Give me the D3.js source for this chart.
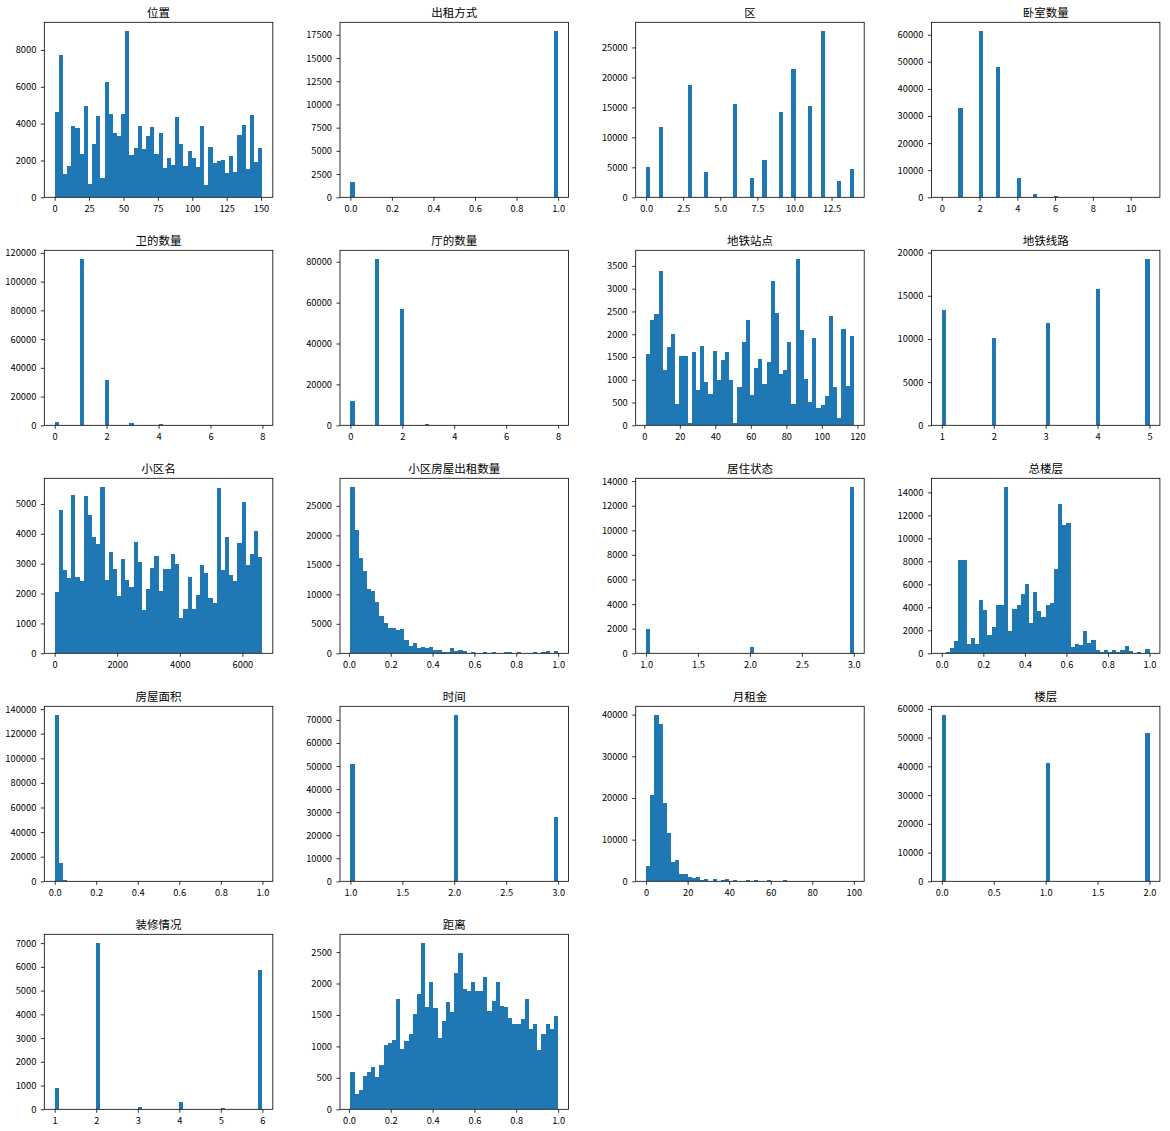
<!DOCTYPE html>
<html><head><meta charset="utf-8">
<script src="https://cdn.jsdelivr.net/npm/d3@7"></script>
<style>body{margin:0;background:#fff}</style>
</head><body><svg id="c" width="1170" height="1131"></svg>
<script>
// ---------- data ----------
const titles = ["位置","出租方式","区","卧室数量","卫的数量","厅的数量","地铁站点","地铁线路","小区名","小区房屋出租数量","居住状态","总楼层","房屋面积","时间","月租金","楼层","装修情况","距离"];

// 位置 (50 bins)
const weizhiRange = [0, 151];
const weizhiCounts = [4650,7750,1250,1700,3850,3750,2350,4950,700,2900,4400,1050,6250,4550,3480,3320,4550,9050,2300,2650,3850,2600,3320,3800,2350,3480,1600,2120,1750,4350,2880,1700,2500,2120,1650,3850,650,2720,1870,1950,2000,1320,2230,1370,3370,3900,1530,4450,1900,2650];
const weizhiXTicks = ["0","25","50","75","100","125","150"];
const weizhiYTicks = ["0","2000","4000","6000","8000"];

// 出租方式 (discrete values)
const chuzuRange = [0, 1];
const chuzuValues = [0, 1];
const chuzuCounts = [1600, 17950];
const chuzuXTicks = ["0.0","0.2","0.4","0.6","0.8","1.0"];
const chuzuYTicks = ["0","2500","5000","7500","10000","12500","15000","17500"];

// 区
const quRange = [0, 14];
const quValues = [0,1,3,4,6,7,8,9,10,11,12,13,14];
const quCounts = [5000,11800,18800,4300,15500,3200,6200,14200,21400,15200,27800,2700,4800];
const quXTicks = ["0.0","2.5","5.0","7.5","10.0","12.5"];
const quYTicks = ["0","5000","10000","15000","20000","25000"];

// 卧室数量
const woshiRange = [0, 11];
const woshiValues = [1,2,3,4,5,6,7,8,9,11];
const woshiCounts = [32800,61500,48200,7100,1200,400,60,20,10,5];
const woshiXTicks = ["0","2","4","6","8","10"];
const woshiYTicks = ["0","10000","20000","30000","40000","50000","60000"];

// 卫的数量
const weiRange = [0, 8];
const weiValues = [0,1,2,3,4,5,6,8];
const weiCounts = [2200,116000,31200,1400,600,100,30,5];
const weiXTicks = ["0","2","4","6","8"];
const weiYTicks = ["0","20000","40000","60000","80000","100000","120000"];

// 厅的数量
const tingRange = [0, 8];
const tingValues = [0,1,2,3,4,5,8];
const tingCounts = [11800,81500,56800,600,50,10,5];
const tingXTicks = ["0","2","4","6","8"];
const tingYTicks = ["0","20000","40000","60000","80000"];

// 地铁站点 (50 bins)
const zhandianRange = [1, 118];
const zhandianCounts = [1570,2310,2440,3380,1210,1720,2000,460,1520,1520,60,1610,770,1740,950,680,1630,990,1430,1610,990,60,840,1830,2310,660,1250,1450,900,1390,3160,2460,1130,1210,1830,460,3660,2090,1010,510,1920,380,440,640,2400,840,160,2110,860,1960];
const zhandianXTicks = ["0","20","40","60","80","100","120"];
const zhandianYTicks = ["0","500","1000","1500","2000","2500","3000","3500"];

// 地铁线路
const xianluRange = [1, 5];
const xianluValues = [1,2,3,4,5];
const xianluCounts = [13300,10100,11800,15800,19300];
const xianluXTicks = ["1","2","3","4","5"];
const xianluYTicks = ["0","5000","10000","15000","20000"];

// 小区名 (50 bins)
const xiaoquRange = [0, 6640];
const xiaoquCounts = [2050,4800,2780,2510,5300,2540,2410,5270,4640,3880,3650,5580,2440,3380,2810,1910,3170,2470,2210,3710,3040,1450,2140,2840,3270,2080,2810,2810,3310,2980,1180,1480,2540,1480,1940,2940,2680,1840,1680,5540,2780,3880,2610,2410,3680,5070,2940,3310,4110,3210];
const xiaoquXTicks = ["0","2000","4000","6000"];
const xiaoquYTicks = ["0","1000","2000","3000","4000","5000"];

// 小区房屋出租数量 (50 bins)
const chuzushuRange = [0.007, 1];
const chuzushuCounts = [28270,20830,16100,13900,10870,10530,8670,6300,5120,4280,4280,3940,4110,2250,1240,1750,900,1070,900,1070,560,560,230,230,900,390,560,390,60,200,30,30,200,30,200,30,30,200,200,30,200,30,30,30,200,30,200,350,30,350];
const chuzushuXTicks = ["0.0","0.2","0.4","0.6","0.8","1.0"];
const chuzushuYTicks = ["0","5000","10000","15000","20000","25000"];

// 居住状态
const juzhuRange = [1, 3];
const juzhuValues = [1,2,3];
const juzhuCounts = [2000,480,13550];
const juzhuXTicks = ["1.0","1.5","2.0","2.5","3.0"];
const juzhuYTicks = ["0","2000","4000","6000","8000","10000","12000","14000"];

// 总楼层 (50 bins)
const zonglouRange = [0, 1];
const zonglouCounts = [50,150,450,1050,8100,8150,800,1300,850,4600,3750,1550,2250,4200,4200,14500,1950,3850,4200,5200,6000,2650,5300,3650,3150,4200,4350,7300,13000,11200,11300,550,800,700,1950,900,1150,250,100,250,100,250,100,250,600,200,20,100,30,350];
const zonglouXTicks = ["0.0","0.2","0.4","0.6","0.8","1.0"];
const zonglouYTicks = ["0","2000","4000","6000","8000","10000","12000","14000"];

// 房屋面积 (50 bins)
const mianjiRange = [0, 1];
const mianjiCounts = [135500,14800,1000,200,60,20,10,5,2,1,1,0,0,0,0,0,0,0,0,0,0,0,0,0,0,0,0,0,0,0,0,0,0,0,0,0,0,0,0,0,0,0,0,0,0,0,0,0,0,1];
const mianjiXTicks = ["0.0","0.2","0.4","0.6","0.8","1.0"];
const mianjiYTicks = ["0","20000","40000","60000","80000","100000","120000","140000"];

// 时间
const shijianRange = [1, 3];
const shijianValues = [1,2,3];
const shijianCounts = [51000,72300,27800];
const shijianXTicks = ["1.0","1.5","2.0","2.5","3.0"];
const shijianYTicks = ["0","10000","20000","30000","40000","50000","60000","70000"];

// 月租金 (50 bins)
const zujinRange = [0, 100];
const zujinCounts = [3600,20800,40000,37800,18900,11700,4600,5000,1800,1800,1000,800,1000,300,500,80,500,80,300,500,80,300,50,50,300,50,300,30,30,300,20,20,20,300,10,10,10,10,10,10,5,5,5,5,5,5,5,5,5,20];
const zujinXTicks = ["0","20","40","60","80","100"];
const zujinYTicks = ["0","10000","20000","30000","40000"];

// 楼层
const loucengRange = [0, 2];
const loucengValues = [0,1,2];
const loucengCounts = [58000,41200,51500];
const loucengXTicks = ["0.0","0.5","1.0","1.5","2.0"];
const loucengYTicks = ["0","10000","20000","30000","40000","50000","60000"];

// 装修情况
const zhuangxiuRange = [1, 6];
const zhuangxiuValues = [1,2,3,4,5,6];
const zhuangxiuCounts = [900,7020,100,300,50,5850];
const zhuangxiuXTicks = ["1","2","3","4","5","6"];
const zhuangxiuYTicks = ["0","1000","2000","3000","4000","5000","6000","7000"];

// 距离 (50 bins)
const juliRange = [0.007, 1];
const juliCounts = [590,240,300,530,600,670,510,700,1020,1050,1100,1750,960,1080,1190,1510,1830,2650,1620,2030,1610,1130,1400,1700,1540,2160,2480,1910,1880,2030,1880,1880,2110,1560,1720,2030,1650,1620,1450,1350,1350,1430,1760,1270,1350,940,1190,1350,1270,1490];
const juliXTicks = ["0.0","0.2","0.4","0.6","0.8","1.0"];
const juliYTicks = ["0","500","1000","1500","2000","2500"];

// ---------- helpers ----------
const NBINS = 50;
function binDiscrete(range, values, counts) {
  const w = (range[1] - range[0]) / NBINS;
  const bins = new Array(NBINS).fill(0);
  values.forEach((v, i) => {
    let k = Math.floor((v - range[0]) / w + 1e-9);
    if (k > NBINS - 1) k = NBINS - 1;
    if (k < 0) k = 0;
    bins[k] += counts[i];
  });
  return bins;
}

const panels = [
  {range: weizhiRange, bins: weizhiCounts, xt: weizhiXTicks, yt: weizhiYTicks},
  {range: chuzuRange, bins: binDiscrete(chuzuRange, chuzuValues, chuzuCounts), xt: chuzuXTicks, yt: chuzuYTicks},
  {range: quRange, bins: binDiscrete(quRange, quValues, quCounts), xt: quXTicks, yt: quYTicks},
  {range: woshiRange, bins: binDiscrete(woshiRange, woshiValues, woshiCounts), xt: woshiXTicks, yt: woshiYTicks},
  {range: weiRange, bins: binDiscrete(weiRange, weiValues, weiCounts), xt: weiXTicks, yt: weiYTicks},
  {range: tingRange, bins: binDiscrete(tingRange, tingValues, tingCounts), xt: tingXTicks, yt: tingYTicks},
  {range: zhandianRange, bins: zhandianCounts, xt: zhandianXTicks, yt: zhandianYTicks},
  {range: xianluRange, bins: binDiscrete(xianluRange, xianluValues, xianluCounts), xt: xianluXTicks, yt: xianluYTicks},
  {range: xiaoquRange, bins: xiaoquCounts, xt: xiaoquXTicks, yt: xiaoquYTicks},
  {range: chuzushuRange, bins: chuzushuCounts, xt: chuzushuXTicks, yt: chuzushuYTicks},
  {range: juzhuRange, bins: binDiscrete(juzhuRange, juzhuValues, juzhuCounts), xt: juzhuXTicks, yt: juzhuYTicks},
  {range: zonglouRange, bins: zonglouCounts, xt: zonglouXTicks, yt: zonglouYTicks},
  {range: mianjiRange, bins: mianjiCounts, xt: mianjiXTicks, yt: mianjiYTicks},
  {range: shijianRange, bins: binDiscrete(shijianRange, shijianValues, shijianCounts), xt: shijianXTicks, yt: shijianYTicks},
  {range: zujinRange, bins: zujinCounts, xt: zujinXTicks, yt: zujinYTicks},
  {range: loucengRange, bins: binDiscrete(loucengRange, loucengValues, loucengCounts), xt: loucengXTicks, yt: loucengYTicks},
  {range: zhuangxiuRange, bins: binDiscrete(zhuangxiuRange, zhuangxiuValues, zhuangxiuCounts), xt: zhuangxiuXTicks, yt: zhuangxiuYTicks},
  {range: juliRange, bins: juliCounts, xt: juliXTicks, yt: juliYTicks}
];

// ---------- layout ----------
const COL0 = 44.3, COLSTEP = 295.7, ROW0 = 22.3, ROWSTEP = 228, PW = 228.5, PH = 175;
const FONT = '"Noto Sans CJK SC","DejaVu Sans",sans-serif';
const svg = d3.select("#c");

panels.forEach((p, i) => {
  const col = i % 4, row = Math.floor(i / 4);
  const x0 = COL0 + col * COLSTEP, y0 = ROW0 + row * ROWSTEP;
  const lo = p.range[0], hi = p.range[1], R = hi - lo;
  const bw = R / NBINS;
  const x = d3.scaleLinear().domain([lo - 0.05 * R, hi + 0.05 * R]).range([0, PW]);
  const ymax = d3.max(p.bins) * 1.05;
  const y = d3.scaleLinear().domain([0, ymax]).range([PH, 0]);
  const g = svg.append("g").attr("transform", `translate(${x0},${y0})`);

  g.selectAll("rect.bar")
    .data(p.bins.map((c, k) => ({c, k})).filter(d => d.c > 0))
    .join("rect")
    .attr("class", "bar")
    .attr("x", d => x(lo + d.k * bw))
    .attr("width", d => x(lo + (d.k + 1) * bw) - x(lo + d.k * bw))
    .attr("y", d => y(d.c))
    .attr("height", d => PH - y(d.c))
    .attr("fill", "#1f77b4")
    .attr("shape-rendering", "crispEdges");

  const xa = g.append("g").attr("transform", `translate(0,${PH})`)
    .call(d3.axisBottom(x).tickValues(p.xt.map(Number)).tickFormat((d, j) => p.xt[j]).tickSize(3.5).tickPadding(4.5));
  const ya = g.append("g")
    .call(d3.axisLeft(y).tickValues(p.yt.map(Number)).tickFormat((d, j) => p.yt[j]).tickSize(3.5).tickPadding(4.5));
  [xa, ya].forEach(a => {
    a.select(".domain").remove();
    a.attr("font-family", FONT).attr("font-size", 9.3);
    a.selectAll("line").attr("stroke", "#000").attr("stroke-width", 0.8);
    a.selectAll("text").attr("fill", "#000");
  });

  g.append("rect").attr("x", 0).attr("y", 0).attr("width", PW).attr("height", PH)
    .attr("fill", "none").attr("stroke", "#000").attr("stroke-width", 0.8);

  g.append("text").attr("x", PW / 2).attr("y", -5.8)
    .attr("text-anchor", "middle").attr("font-family", FONT).attr("font-size", 11.5)
    .attr("fill", "#000").text(titles[i]);
});
</script></body></html>
